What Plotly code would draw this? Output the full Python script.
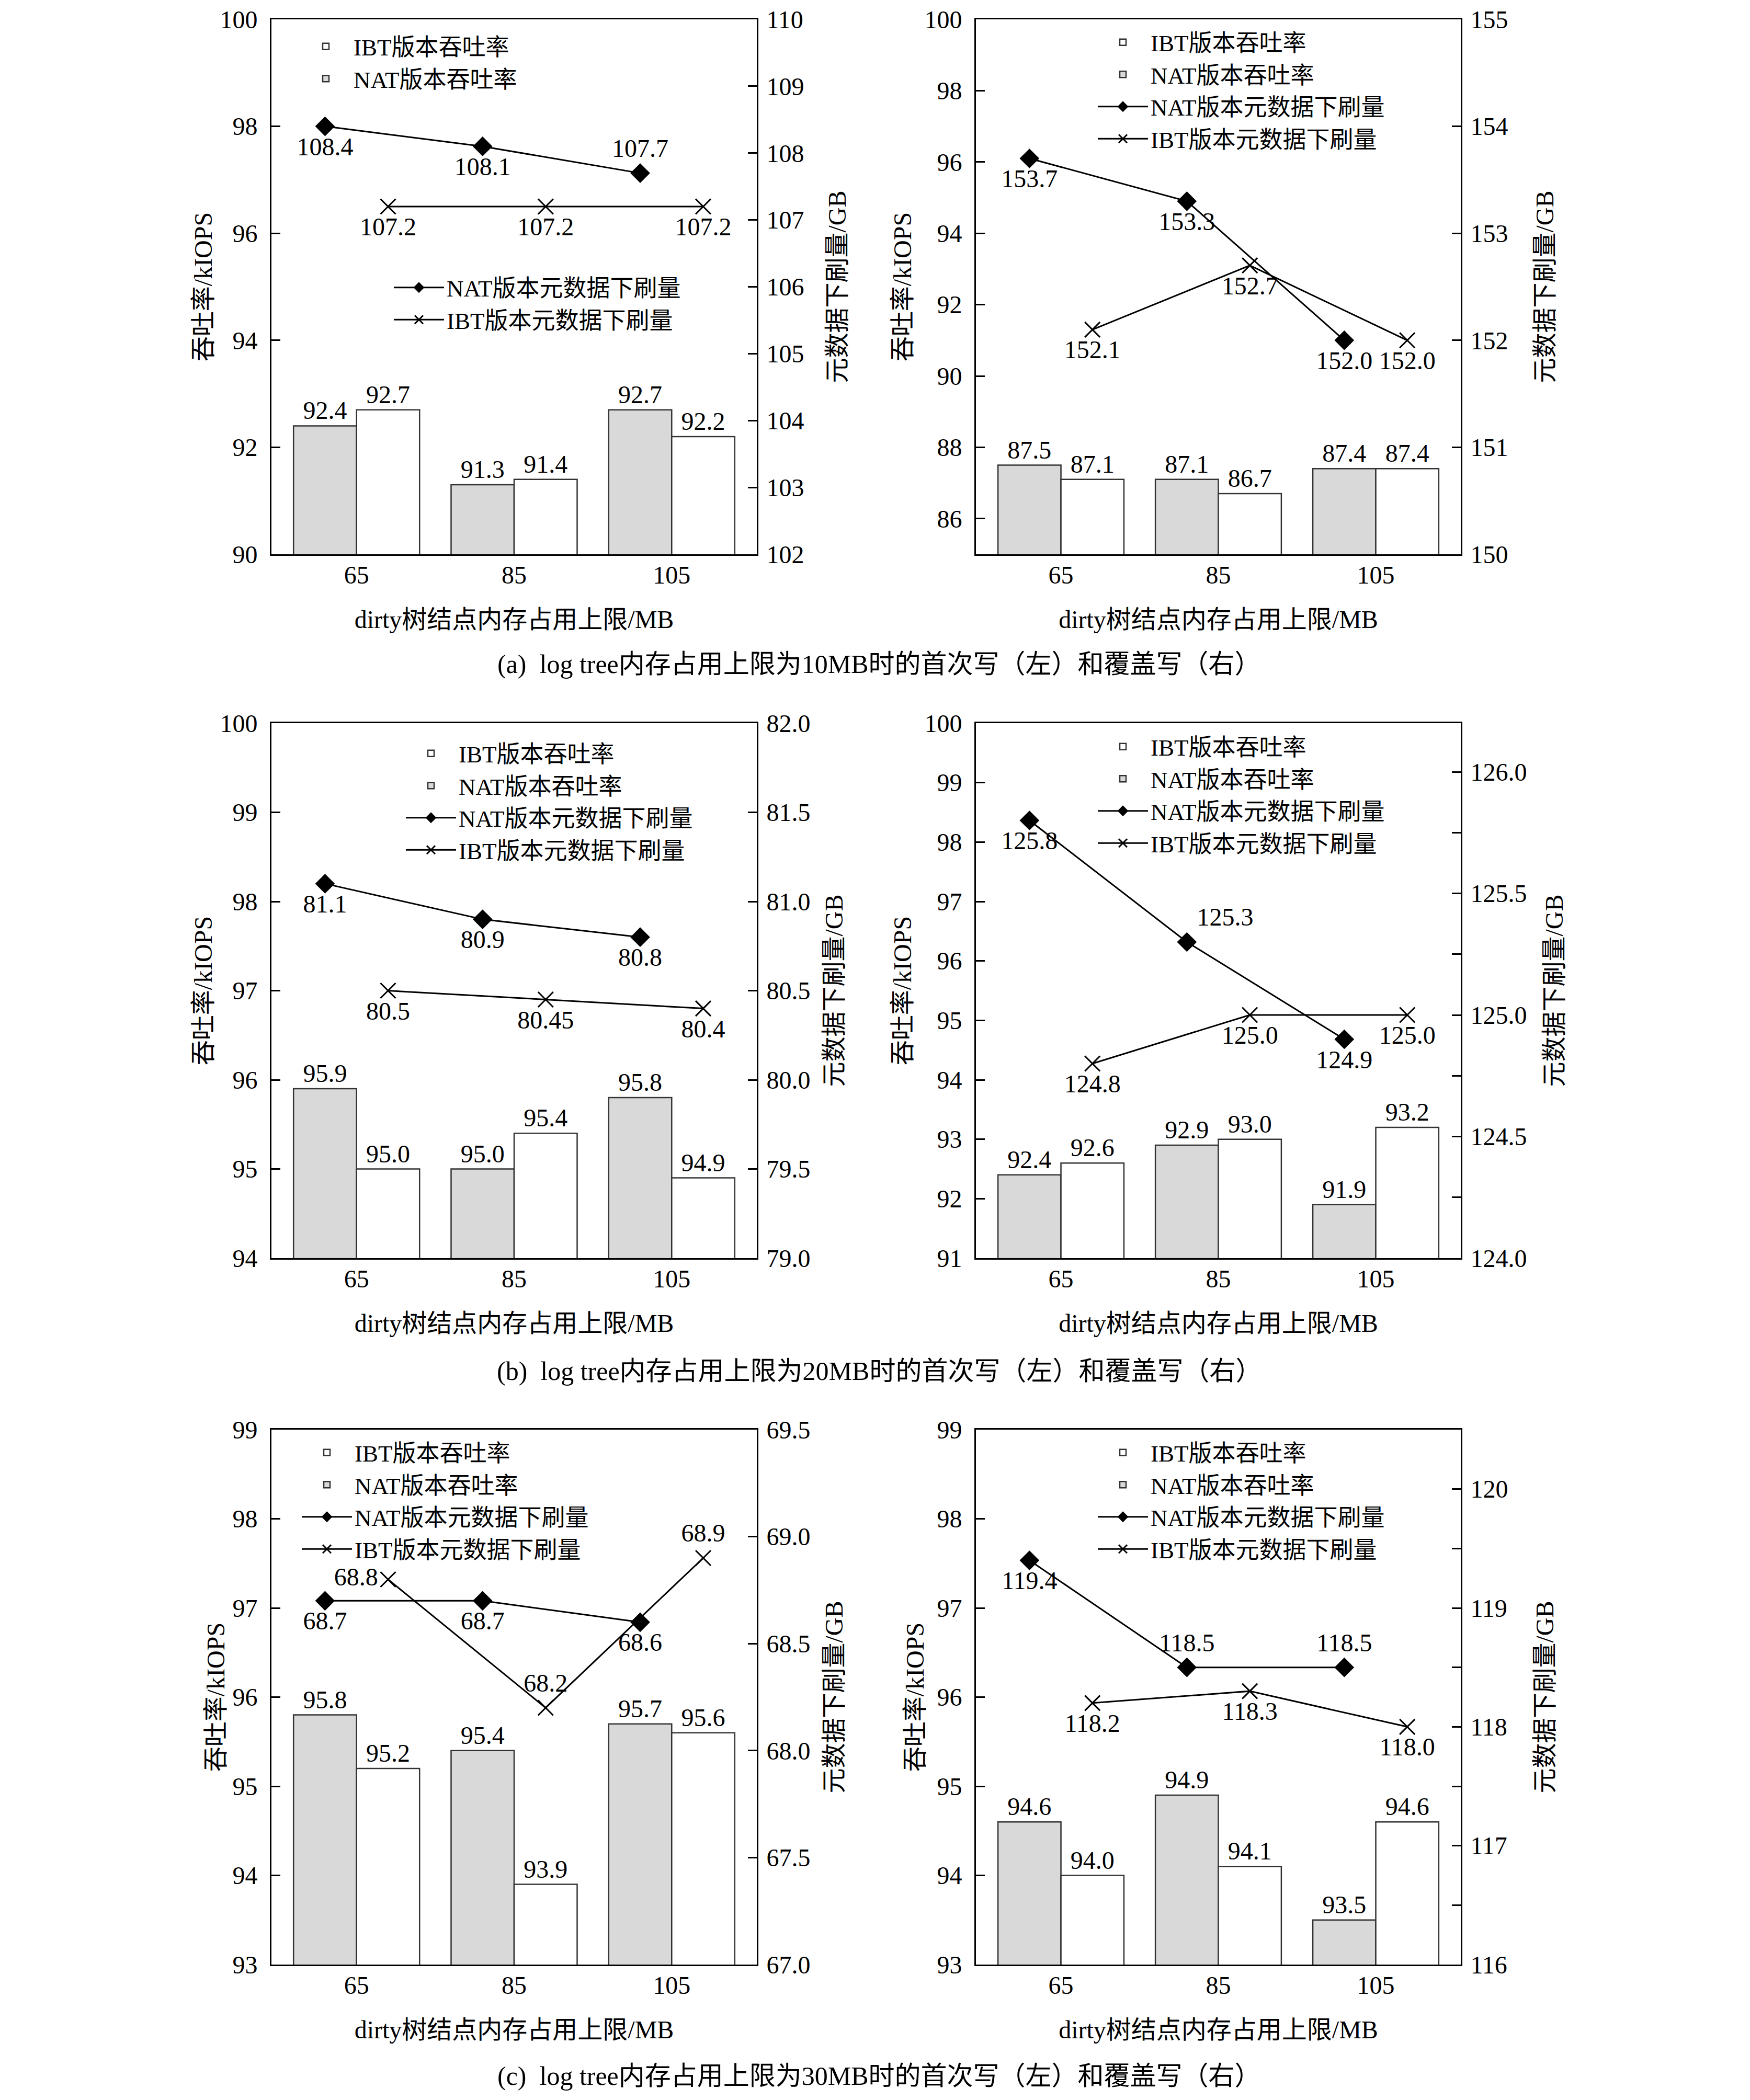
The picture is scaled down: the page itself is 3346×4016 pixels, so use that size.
import plotly.graph_objects as go

# ---------------- data ----------------
categories = ["65", "85", "105"]

a1_nat_tput = [92.4, 91.3, 92.7]
a1_ibt_tput = [92.7, 91.4, 92.2]
a1_nat_meta = [108.4, 108.1, 107.7]
a1_ibt_meta = [107.2, 107.2, 107.2]

a2_nat_tput = [87.5, 87.1, 87.4]
a2_ibt_tput = [87.1, 86.7, 87.4]
a2_nat_meta = [153.7, 153.3, 152.0]
a2_ibt_meta = [152.1, 152.7, 152.0]

b1_nat_tput = [95.9, 95.0, 95.8]
b1_ibt_tput = [95.0, 95.4, 94.9]
b1_nat_meta = [81.1, 80.9, 80.8]
b1_ibt_meta = [80.5, 80.45, 80.4]

b2_nat_tput = [92.4, 92.9, 91.9]
b2_ibt_tput = [92.6, 93.0, 93.2]
b2_nat_meta = [125.8, 125.3, 124.9]
b2_ibt_meta = [124.8, 125.0, 125.0]

c1_nat_tput = [95.8, 95.4, 95.7]
c1_ibt_tput = [95.2, 93.9, 95.6]
c1_nat_meta = [68.7, 68.7, 68.6]
c1_ibt_meta = [68.8, 68.2, 68.9]

c2_nat_tput = [94.6, 94.9, 93.5]
c2_ibt_tput = [94.0, 94.1, 94.6]
c2_nat_meta = [119.4, 118.5, 118.5]
c2_ibt_meta = [118.2, 118.3, 118.0]

name_ibt_bar = "IBT版本吞吐率"
name_nat_bar = "NAT版本吞吐率"
name_nat_line = "NAT版本元数据下刷量"
name_ibt_line = "IBT版本元数据下刷量"

x_title = "dirty树结点内存占用上限/MB"
y_left_title = "吞吐率/kIOPS"
y_right_title = "元数据下刷量/GB"

captions = [
    "(a)\u00a0 log tree内存占用上限为10MB时的首次写（左）和覆盖写（右）",
    "(b)\u00a0 log tree内存占用上限为20MB时的首次写（左）和覆盖写（右）",
    "(c)\u00a0 log tree内存占用上限为30MB时的首次写（左）和覆盖写（右）",
]

# ---------------- styling / layout ----------------
W, H = 3346, 4016
PAGE_OFF = 8  # default page margin around the figure
FONT = "Liberation Serif, 'Noto Sans CJK SC', serif"
FS = 48
LFS = 45
NAT_FILL = "#d9d9d9"
EDGE = "#333333"
BARGAP = 0.2


def px(x):
    return (x - PAGE_OFF) / W


def py(y):
    return 1 - (y - PAGE_OFF) / H


def fmt(v):
    s = f"{v:.1f}"
    return s if abs(float(s) - v) < 1e-9 else f"{v:.2f}"


idx = list(range(len(categories)))
bar_w = (1 - BARGAP) / 2
nat_x = [i - bar_w / 2 for i in idx]
ibt_x = [i + bar_w / 2 for i in idx]

LEFT_X = (519, 1447)
RIGHT_X = (1866, 2793)
ROW_A = (37, 1060)
ROW_B = (1383, 2406)
ROW_C = (2734, 3757)

BC, TC, ML = "bottom center", "top center", "middle left"

panels = [
    dict(nat=a1_nat_tput, ibt=a1_ibt_tput, natm=a1_nat_meta, ibtm=a1_ibt_meta,
         xd=LEFT_X, yd=ROW_A, lt=0, rt=47,
         y1=dict(range=[90, 100], dtick=2, tick0=90),
         y2=dict(range=[102, 110], dtick=1, tick0=102),
         natpos=[BC, BC, TC], ibtpos=[BC, BC, BC],
         bar_legend=("legend", 570, 53), line_legend=("legend2", 748, 514)),
    dict(nat=a2_nat_tput, ibt=a2_ibt_tput, natm=a2_nat_meta, ibtm=a2_ibt_meta,
         xd=RIGHT_X, yd=ROW_A, lt=10, rt=54,
         y1=dict(range=[85, 100], dtick=2, tick0=86),
         y2=dict(range=[150, 155], dtick=1, tick0=150),
         natpos=[BC, BC, BC], ibtpos=[BC, BC, BC],
         bar_legend=("legend3", 2094, 45), line_legend=("legend3", 2094, 45)),
    dict(nat=b1_nat_tput, ibt=b1_ibt_tput, natm=b1_nat_meta, ibtm=b1_ibt_meta,
         xd=LEFT_X, yd=ROW_B, lt=0, rt=29,
         y1=dict(range=[94, 100], dtick=1, tick0=94),
         y2=dict(range=[79, 82], dtick=0.5, tick0=79, tickformat=".1f"),
         natpos=[BC, BC, BC], ibtpos=[BC, BC, BC],
         bar_legend=("legend4", 771, 1405), line_legend=("legend4", 771, 1405)),
    dict(nat=b2_nat_tput, ibt=b2_ibt_tput, natm=b2_nat_meta, ibtm=b2_ibt_meta,
         xd=RIGHT_X, yd=ROW_B, lt=10, rt=36,
         y1=dict(range=[91, 100], dtick=1, tick0=91),
         y2=dict(range=[124, 126.2], dtick=0.5, tick0=124, tickformat=".1f", minor=0.25),
         natpos=[BC, "top right", BC], ibtpos=[BC, BC, BC],
         bar_legend=("legend5", 2094, 1392), line_legend=("legend5", 2094, 1392)),
    dict(nat=c1_nat_tput, ibt=c1_ibt_tput, natm=c1_nat_meta, ibtm=c1_ibt_meta,
         xd=LEFT_X, yd=ROW_C, lt=0, rt=29,
         y1=dict(range=[93, 99], dtick=1, tick0=93),
         y2=dict(range=[67, 69.5], dtick=0.5, tick0=67, tickformat=".1f"),
         natpos=[BC, BC, BC], ibtpos=[ML, TC, TC],
         bar_legend=("legend6", 572, 2742), line_legend=("legend6", 572, 2742)),
    dict(nat=c2_nat_tput, ibt=c2_ibt_tput, natm=c2_nat_meta, ibtm=c2_ibt_meta,
         xd=RIGHT_X, yd=ROW_C, lt=10, rt=54,
         y1=dict(range=[93, 99], dtick=1, tick0=93),
         y2=dict(range=[116, 120.5], dtick=1, tick0=116, minor=0.5),
         natpos=[BC, TC, TC], ibtpos=[BC, BC, BC],
         bar_legend=("legend7", 2094, 2742), line_legend=("legend7", 2094, 2742)),
]

fig = go.Figure()
layout = dict(
    width=W, height=H,
    margin=dict(l=0, r=0, t=0, b=0, autoexpand=False),
    paper_bgcolor="white", plot_bgcolor="rgba(0,0,0,0)",
    font=dict(family=FONT, size=FS, color="black"),
    barmode="group", bargap=BARGAP, bargroupgap=0,
    showlegend=True,
    annotations=[],
)

tick_font = dict(family=FONT, size=FS, color="black")
used_legends = {}

for k, p in enumerate(panels, start=1):
    xid = "x" if k == 1 else f"x{k}"
    y1id = "y" if k == 1 else f"y{2 * k - 1}"
    y2id = f"y{2 * k}"
    xkey = "xaxis" if k == 1 else f"xaxis{k}"
    y1key = "yaxis" if k == 1 else f"yaxis{2 * k - 1}"
    y2key = f"yaxis{2 * k}"

    bl, bx, by = p["bar_legend"]
    ll, lx, ly = p["line_legend"]
    used_legends[bl] = (bx, by)
    used_legends[ll] = (lx, ly)

    fig.add_trace(go.Bar(
        x=idx, y=p["nat"], name=name_nat_bar, xaxis=xid, yaxis=y1id,
        marker=dict(color=NAT_FILL, line=dict(color=EDGE, width=2.5)),
        text=[fmt(v) for v in p["nat"]], textposition="outside",
        textfont=dict(family=FONT, size=FS, color="black"),
        constraintext="none", cliponaxis=False,
        legend=bl, legendrank=2, offsetgroup="nat",
    ))
    fig.add_trace(go.Bar(
        x=idx, y=p["ibt"], name=name_ibt_bar, xaxis=xid, yaxis=y1id,
        marker=dict(color="white", line=dict(color=EDGE, width=2.5)),
        text=[fmt(v) for v in p["ibt"]], textposition="outside",
        textfont=dict(family=FONT, size=FS, color="black"),
        constraintext="none", cliponaxis=False,
        legend=bl, legendrank=1, offsetgroup="ibt",
    ))
    fig.add_trace(go.Scatter(
        x=nat_x, y=p["natm"], name=name_nat_line, xaxis=xid, yaxis=y2id,
        mode="lines+markers+text",
        line=dict(color="black", width=3),
        marker=dict(symbol="diamond", size=29, color="black"),
        text=[fmt(v) for v in p["natm"]], textposition=p["natpos"],
        textfont=dict(family=FONT, size=FS, color="black"),
        cliponaxis=False, legend=ll, legendrank=3,
    ))
    fig.add_trace(go.Scatter(
        x=ibt_x, y=p["ibtm"], name=name_ibt_line, xaxis=xid, yaxis=y2id,
        mode="lines+markers+text",
        line=dict(color="black", width=3),
        marker=dict(symbol="x-thin", size=29, color="black",
                    line=dict(color="black", width=3)),
        text=[fmt(v) for v in p["ibtm"]], textposition=p["ibtpos"],
        textfont=dict(family=FONT, size=FS, color="black"),
        cliponaxis=False, legend=ll, legendrank=4,
    ))

    xdom = [px(p["xd"][0]), px(p["xd"][1])]
    ydom = [py(p["yd"][1]), py(p["yd"][0])]

    layout[xkey] = dict(
        domain=xdom, anchor=y1id, range=[-0.54, 2.54], automargin=False,
        tickmode="array", tickvals=idx, ticktext=categories,
        showline=True, mirror=True, linecolor="black", linewidth=3,
        ticks="", showgrid=False, zeroline=False,
        tickfont=tick_font, ticklabelstandoff=-5,
        title=dict(text=x_title, font=dict(family=FONT, size=FS), standoff=43),
    )
    y1 = p["y1"]
    layout[y1key] = dict(
        domain=ydom, anchor=xid, range=y1["range"], automargin=False,
        tickmode="linear", dtick=y1["dtick"], tick0=y1["tick0"],
        ticks="inside", ticklen=17, tickwidth=3, tickcolor="black",
        showline=True, linecolor="black", linewidth=3, mirror=False,
        showgrid=False, zeroline=False,
        tickfont=tick_font, ticklabelstandoff=14,
        title=dict(text=y_left_title, font=dict(family=FONT, size=FS), standoff=p["lt"]),
    )
    y2 = p["y2"]
    y2ax = dict(
        overlaying=y1id, side="right", anchor=xid, range=y2["range"], automargin=False,
        tickmode="linear", dtick=y2["dtick"], tick0=y2["tick0"],
        ticks="inside", ticklen=17, tickwidth=3, tickcolor="black",
        showline=True, linecolor="black", linewidth=3,
        showgrid=False, zeroline=False,
        tickfont=tick_font, ticklabelstandoff=6,
        title=dict(text=y_right_title, font=dict(family=FONT, size=FS), standoff=p["rt"]),
    )
    if "tickformat" in y2:
        y2ax["tickformat"] = y2["tickformat"]
    if "minor" in y2:
        y2ax["minor"] = dict(dtick=y2["minor"], tick0=y2["tick0"], ticks="inside",
                             ticklen=17, tickwidth=3, tickcolor="black", showgrid=False)
    layout[y2key] = y2ax

for lid, (lx, ly) in used_legends.items():
    layout[lid] = dict(
        x=px(lx), y=py(ly), xanchor="left", yanchor="top",
        xref="paper", yref="paper",
        bgcolor="rgba(0,0,0,0)", borderwidth=0,
        font=dict(family=FONT, size=LFS, color="black"),
        itemwidth=96, traceorder="normal", tracegroupgap=0,
        itemsizing="trace",
    )

for cap, cy in zip(captions, [1270, 2622, 3970]):
    layout["annotations"].append(dict(
        text=cap, x=px(W / 2 + PAGE_OFF), y=py(cy), xref="paper", yref="paper",
        xanchor="center", yanchor="middle", showarrow=False,
        font=dict(family=FONT, size=50, color="black"),
    ))

fig.update_layout(**layout)
fig.write_html("out.html")
